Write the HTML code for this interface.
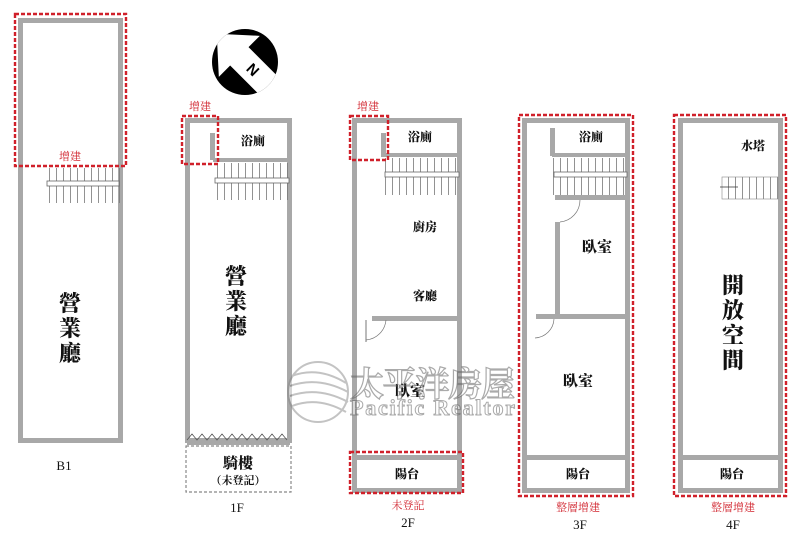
<!DOCTYPE html>
<html><head><meta charset="utf-8"><style>
html,body{margin:0;padding:0;background:#fff;width:800px;height:555px;overflow:hidden}
text{font-family:"Liberation Serif","Noto Serif CJK SC",serif;fill:#111}
.w{fill:none;stroke:#a8a8a8;stroke-width:5}
.red{fill:none;stroke:#d0202a;stroke-width:2.4;stroke-dasharray:4 2}
.rt{fill:#d0202a;font-size:11px}
.big{font-size:22px;font-weight:900}
.mid{font-size:15px;font-weight:900}
.sm{font-size:12px;font-weight:900}
</style></head><body>
<svg width="800" height="555" viewBox="0 0 800 555" xmlns="http://www.w3.org/2000/svg">
<defs>
<pattern id="st" width="7" height="40" patternUnits="userSpaceOnUse"><line x1="0.5" y1="0" x2="0.5" y2="40" stroke="#777" stroke-width="0.8"/></pattern>
<clipPath id="cc"><circle cx="245" cy="62" r="33"/></clipPath>
</defs>

<!-- B1 -->
<rect class="w" x="20.5" y="20.5" width="100" height="420"/>
<rect x="45" y="168" width="75" height="35" fill="url(#st)"/>
<rect x="47" y="181" width="72" height="5" fill="#fff" stroke="#666" stroke-width="0.8"/>
<rect class="red" x="15" y="14" width="111" height="152"/>
<text class="rt" x="70" y="160" text-anchor="middle">增建</text>
<text class="big" x="70" y="311" text-anchor="middle">營</text>
<text class="big" x="70" y="336" text-anchor="middle">業</text>
<text class="big" x="70" y="361" text-anchor="middle">廳</text>
<text x="64" y="470" font-size="13" text-anchor="middle">B1</text>

<!-- compass -->
<circle cx="245" cy="62" r="33" fill="#000"/>
<g clip-path="url(#cc)" transform="rotate(-45 245 62)">
<polygon points="245,22 274,54 258,54 258,100 232,100 232,54 216,54" fill="#fff"/>
<text x="245" y="78" font-size="15" font-weight="bold" text-anchor="middle" transform="rotate(90 245 73)" style="fill:#000;font-family:'Liberation Sans',sans-serif">N</text>
</g>

<!-- 1F -->
<rect class="w" x="187.5" y="120.5" width="102" height="320"/>
<line x1="187" y1="443" x2="290" y2="443" stroke="#a8a8a8" stroke-width="4"/>
<rect x="213" y="158" width="78" height="4" fill="#a8a8a8"/>
<rect x="210" y="133" width="5" height="27" fill="#a8a8a8"/>
<text class="sm" x="253" y="145" text-anchor="middle">浴廁</text>
<rect x="213" y="163" width="77" height="37" fill="url(#st)"/>
<rect x="215" y="178" width="74" height="5" fill="#fff" stroke="#666" stroke-width="0.8"/>
<polyline points="187,440 192,434 197,440 202,434 207,440 212,434 217,440 222,434 227,440 232,434 237,440 242,434 247,440 252,434 257,440 262,434 267,440 272,434 277,440 282,434 287,440" fill="none" stroke="#555" stroke-width="0.8"/>
<rect class="red" x="182" y="116" width="36" height="48"/>
<text class="rt" x="200" y="110" text-anchor="middle">增建</text>
<text class="big" x="236" y="284" text-anchor="middle">營</text>
<text class="big" x="236" y="309" text-anchor="middle">業</text>
<text class="big" x="236" y="334" text-anchor="middle">廳</text>
<rect x="186" y="446" width="105" height="46" fill="none" stroke="#888" stroke-width="1.2" stroke-dasharray="3 2"/>
<text class="mid" x="238" y="468" text-anchor="middle">騎樓</text>
<text x="238" y="484" font-size="11" font-weight="bold" text-anchor="middle">（未登記）</text>
<text x="237" y="512" font-size="13" text-anchor="middle">1F</text>

<!-- 2F -->
<rect class="w" x="354.5" y="120.5" width="105" height="370"/>
<rect x="384" y="153" width="77" height="4" fill="#a8a8a8"/>
<rect x="381" y="133" width="5" height="24" fill="#a8a8a8"/>
<text class="sm" x="420" y="141" text-anchor="middle">浴廁</text>
<rect x="383" y="158" width="77" height="37" fill="url(#st)"/>
<rect x="385" y="172" width="74" height="5" fill="#fff" stroke="#666" stroke-width="0.8"/>
<text class="sm" x="425" y="231" text-anchor="middle">廚房</text>
<text class="sm" x="425" y="300" text-anchor="middle">客廳</text>
<rect x="372" y="316" width="89" height="5" fill="#a8a8a8"/>
<path d="M366 340 A22 22 0 0 0 386 320" fill="none" stroke="#777" stroke-width="0.7"/>
<line x1="366" y1="320" x2="366" y2="342" stroke="#777" stroke-width="1"/>
<rect x="354" y="455" width="106" height="5" fill="#a8a8a8"/>
<text class="sm" x="407" y="478" text-anchor="middle">陽台</text>
<rect class="red" x="350" y="116" width="38" height="44"/>
<text class="rt" x="368" y="110" text-anchor="middle">增建</text>
<rect class="red" x="350" y="452" width="113" height="41"/>
<text class="rt" x="408" y="509" text-anchor="middle">未登記</text>
<text x="408" y="527" font-size="13" text-anchor="middle">2F</text>

<!-- 3F -->
<rect class="w" x="524.5" y="120.5" width="103" height="370"/>
<rect x="552" y="153" width="76" height="4" fill="#a8a8a8"/>
<rect x="550" y="128" width="5" height="28" fill="#a8a8a8"/>
<text class="sm" x="591" y="141" text-anchor="middle">浴廁</text>
<rect x="552" y="158" width="76" height="37" fill="url(#st)"/>
<rect x="554" y="172" width="73" height="5" fill="#fff" stroke="#666" stroke-width="0.8"/>
<rect x="555" y="195" width="73" height="5" fill="#a8a8a8"/>
<rect x="555" y="222" width="5" height="96" fill="#a8a8a8"/>
<path d="M560 222 A22 22 0 0 0 580 200" fill="none" stroke="#777" stroke-width="0.7"/>
<text class="mid" x="597" y="252" text-anchor="middle">臥室</text>
<rect x="536" y="314" width="92" height="5" fill="#a8a8a8"/>
<path d="M535 338 A20 20 0 0 0 554 319" fill="none" stroke="#777" stroke-width="0.7"/>
<text class="mid" x="578" y="386" text-anchor="middle">臥室</text>
<rect x="524" y="455" width="104" height="5" fill="#a8a8a8"/>
<text class="sm" x="578" y="478" text-anchor="middle">陽台</text>
<rect class="red" x="519" y="115" width="114" height="381"/>
<text class="rt" x="578" y="511" text-anchor="middle">整層增建</text>
<text x="580" y="529" font-size="13" text-anchor="middle">3F</text>

<!-- 4F -->
<rect class="w" x="680.5" y="120.5" width="100" height="370"/>
<text class="sm" x="753" y="150" text-anchor="middle">水塔</text>
<rect x="722" y="177" width="56" height="22" fill="url(#st)" stroke="#888" stroke-width="0.6"/>
<line x1="720" y1="187" x2="738" y2="187" stroke="#333" stroke-width="0.8"/>
<text class="big" x="733" y="293" text-anchor="middle">開</text>
<text class="big" x="733" y="318" text-anchor="middle">放</text>
<text class="big" x="733" y="343" text-anchor="middle">空</text>
<text class="big" x="733" y="368" text-anchor="middle">間</text>
<rect x="680" y="455" width="101" height="5" fill="#a8a8a8"/>
<text class="sm" x="732" y="478" text-anchor="middle">陽台</text>
<rect class="red" x="674" y="115" width="112" height="381"/>
<text class="rt" x="733" y="511" text-anchor="middle">整層增建</text>
<text x="733" y="529" font-size="13" text-anchor="middle">4F</text>

<!-- watermark -->
<g opacity="0.5">
<circle cx="318" cy="392" r="30" fill="#fff" stroke="#888" stroke-width="2"/>
<path d="M292 376 Q318 366 346 383 M290 386 Q318 376 348 392 M290 396 Q318 386 348 402 M292 406 Q318 396 346 412" fill="none" stroke="#888" stroke-width="2"/>
</g>
<text class="mid" x="410" y="396" text-anchor="middle">臥室</text>
<g opacity="0.55">
<text x="350" y="396" font-size="34" font-weight="bold" textLength="165" style="fill:#fff;stroke:#666;stroke-width:1.2;font-family:'Noto Serif CJK SC',serif">太平洋房屋</text>
<text x="350" y="415" font-size="22" font-weight="bold" textLength="165" style="fill:#fff;stroke:#666;stroke-width:1">Pacific Realtor</text>
</g>
</svg>
</body></html>
